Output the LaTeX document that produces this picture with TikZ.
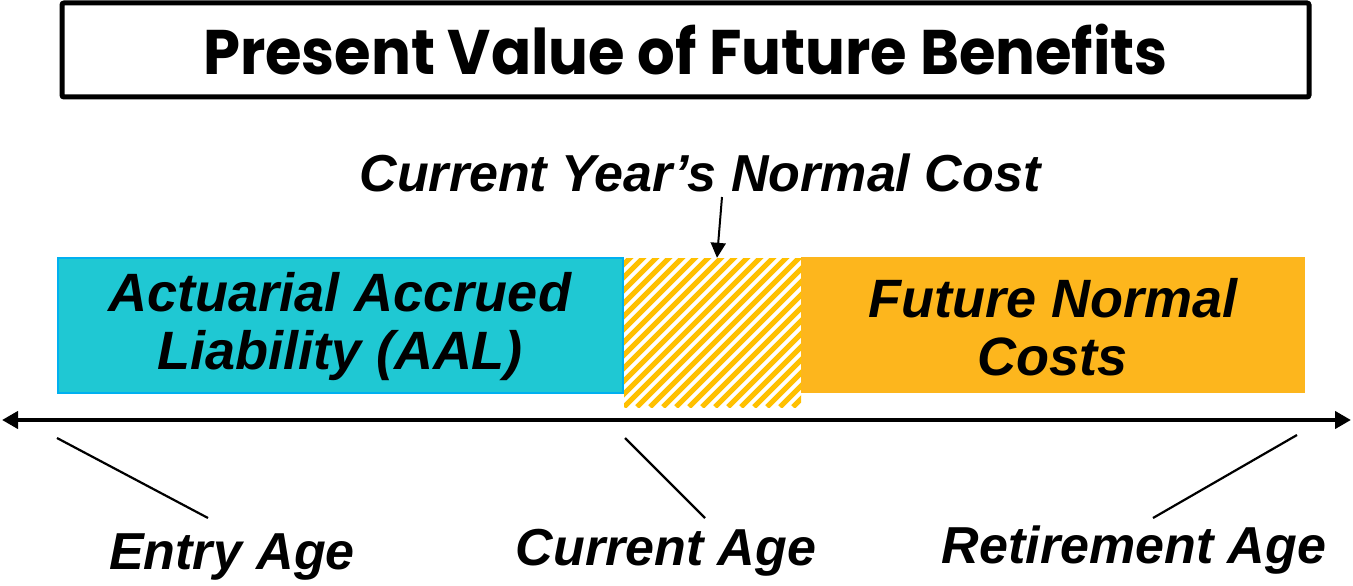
\documentclass[tikz,border=0pt]{standalone}
\usepackage{fontspec}
\setmainfont{Liberation Sans}
\newfontfamily\titlefont[FakeStretch=0.94]{Poppins}
\usetikzlibrary{arrows.meta}
\definecolor{aalfill}{HTML}{1FC8D3}
\definecolor{aaledge}{HTML}{00B0F0}
\definecolor{fncfill}{HTML}{FDB61D}
\definecolor{hatchcol}{HTML}{FFC000}
\tikzset{
  lbl/.style={font=\fontsize{52}{56}\selectfont\bfseries\itshape, inner sep=0pt},
  boxlbl/.style={font=\fontsize{54}{56}\selectfont\bfseries\itshape, align=center, inner sep=0pt},
  pointer/.style={line width=2.2pt},
}
\begin{document}
\begin{tikzpicture}[x=1pt,y=-1pt]
\useasboundingbox (0,0) rectangle (1353,586);

% title box
\node[draw, line width=5pt, rounded corners=2pt, minimum width=1247pt, minimum height=94pt,
      inner sep=0pt, font=\titlefont\bfseries\fontsize{63}{70}\selectfont] (title) at (685.5,50)
      {Present Value of Future Benefits};

% segments of the benefit bar
\node[draw=aaledge, fill=aalfill, line width=2pt, minimum width=565pt, minimum height=135pt,
      inner sep=0pt] (aal) at (340,325) {};
\node[fill=fncfill, minimum width=504pt, minimum height=136pt, inner sep=0pt] (fnc) at (1053,325) {};
\coordinate (hsw) at (624,407);
\coordinate (hne) at (801,258);
\begin{scope}
  \clip (hsw) rectangle (hne);
  \foreach \k in {-13,...,28} {
    \draw[hatchcol, line width=5.2pt] ({624+13*\k},407) -- ++(160,-160);
  }
\end{scope}
\node[inner sep=0pt, minimum width=177pt, minimum height=149pt] (ncbox) at (712.5,332.5) {};

\node[boxlbl] at (340,327) {Actuarial Accrued\\[2pt]Liability (AAL)};
\node[boxlbl] at (1053,327) {Future Normal\\[2pt]Costs};

% current year's normal cost
\node[lbl] (nc) at (700,173) {Current Year’s Normal Cost};
\coordinate (ncfrom) at (722,197);
\draw[line width=2pt, -{Triangle[length=15pt,width=15pt]}] (ncfrom) -- (ncbox.north -| 717,0);

% time axis
\coordinate (axl) at (2,420);
\coordinate (axr) at (1351,420);
\draw[line width=4pt, {Triangle[length=16pt,width=17pt]}-{Triangle[length=16pt,width=17pt]}] (axl) -- (axr);

% age labels and pointers
\node[lbl] (entry) at (232,557) {Entry Age};
\node[lbl] (current) at (666,553) {Current Age};
\node[lbl] (retire) at (1134,550) {Retirement Age};
\coordinate (entryp) at (57,438);
\coordinate (currentp) at (625,438);
\coordinate (retirep) at (1297,435);
\draw[pointer] (entryp) -- (208,518);
\draw[pointer] (currentp) -- (705,518);
\draw[pointer] (retirep) -- (1153,518);
\end{tikzpicture}
\end{document}
